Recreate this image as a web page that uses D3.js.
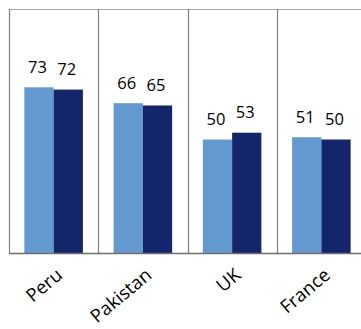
<!DOCTYPE html>
<html>
<head>
<meta charset="utf-8">
<script src="https://cdn.jsdelivr.net/npm/d3@7"></script>
<style>
  html, body { margin: 0; padding: 0; background: #fff; }
  svg { display: block; }
</style>
</head>
<body>
<svg id="chart" width="361" height="329"></svg>
<script>
// Chart data
const categories = ["Peru", "Pakistan", "UK", "France"];
const seriesNames = ["A", "B"];
const seriesA = [73, 66, 50, 51];
const seriesB = [72, 65, 53, 50];
const seriesColors = ["#6299d0", "#14266b"];

const W = 361, H = 329;
const plot = { left: 9, right: 366, top: 9, bottom: 253 };
const yMax = 107.5;

const svg = d3.select("#chart");

const x = d3.scaleBand()
  .domain(categories)
  .range([plot.left, plot.right])
  .paddingInner(0).paddingOuter(0);

const xSub = d3.scaleBand()
  .domain(seriesNames)
  .range([0, x.bandwidth()])
  .paddingInner(0).paddingOuter(0.525);

const y = d3.scaleLinear()
  .domain([0, yMax])
  .range([plot.bottom, plot.top]);

const color = d3.scaleOrdinal().domain(seriesNames).range(seriesColors);

const rows = categories.map((c, i) => ({
  category: c,
  values: [
    { key: "A", value: seriesA[i] },
    { key: "B", value: seriesB[i] }
  ]
}));

// Frame: top line, left edge, category dividers
svg.append("line")
  .attr("x1", plot.left).attr("x2", W)
  .attr("y1", plot.top + 0.5).attr("y2", plot.top + 0.5)
  .attr("stroke", "#a6a6a6").attr("stroke-width", 1.2);

svg.append("g")
  .selectAll("line")
  .data(categories)
  .join("line")
  .attr("x1", d => Math.round(x(d)) + 0.5)
  .attr("x2", d => Math.round(x(d)) + 0.5)
  .attr("y1", plot.top)
  .attr("y2", plot.bottom)
  .attr("stroke", "#7f7f7f").attr("stroke-width", 1.2);

// Bars
const groups = svg.append("g")
  .selectAll("g")
  .data(rows)
  .join("g")
  .attr("transform", d => `translate(${x(d.category)},0)`);

groups.selectAll("rect")
  .data(d => d.values)
  .join("rect")
  .attr("x", d => xSub(d.key))
  .attr("y", d => y(d.value))
  .attr("width", xSub.bandwidth())
  .attr("height", d => y(0) - y(d.value))
  .attr("fill", d => color(d.key));

// Value labels
groups.selectAll("text")
  .data(d => d.values)
  .join("text")
  .attr("x", d => xSub(d.key) + xSub.bandwidth() / 2 - 1.5)
  .attr("y", d => y(d.value) - 14.5)
  .attr("text-anchor", "middle")
  .attr("font-family", "'Open Sans', sans-serif")
  .attr("font-size", 16.5)
  .attr("fill", "#000")
  .text(d => d.value);

// Category axis
const xAxis = svg.append("g")
  .attr("transform", `translate(0,${plot.bottom})`)
  .call(d3.axisBottom(x).tickSize(0).tickPadding(0));

xAxis.select(".domain")
  .attr("d", `M${plot.left},0.5H${W}`)
  .attr("stroke", "#6f6f6f").attr("stroke-width", 1.3);

xAxis.selectAll(".tick text")
  .attr("font-family", "'Open Sans', sans-serif")
  .attr("font-size", 18.5)
  .attr("fill", "#000")
  .attr("text-anchor", "end")
  .attr("dy", 0)
  .attr("transform", "translate(10,24) rotate(-40)");
</script>
</body>
</html>
